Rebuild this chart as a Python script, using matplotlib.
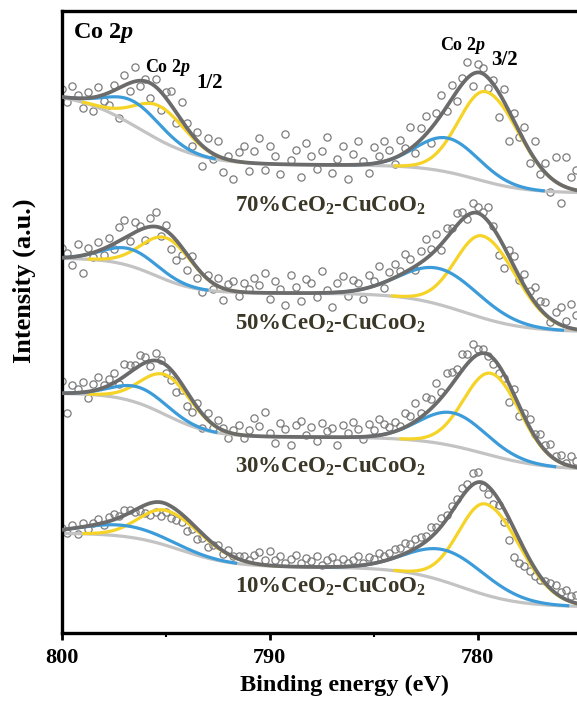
import numpy as np
import matplotlib
matplotlib.use('Agg')
import matplotlib.pyplot as plt

plt.rcParams['font.family'] = ['Liberation Serif', 'DejaVu Serif']
plt.rcParams['font.weight'] = 'bold'
plt.rcParams['axes.labelweight'] = 'bold'
plt.rcParams['mathtext.fontset'] = 'custom'
plt.rcParams['mathtext.rm'] = 'Liberation Serif:bold'
plt.rcParams['mathtext.it'] = 'Liberation Serif:italic:bold'
plt.rcParams['mathtext.bf'] = 'Liberation Serif:bold'

# spectra from top to bottom
samples = ['70%', '50%', '30%', '10%']
offsets = [440, 301, 163, 26]

# Shirley-type background: one step under each spin-orbit peak
bg32_height = [28, 39, 33, 40]
bg32_pos = [780.1, 780.6, 779.7, 780.8]
bg32_width = [2.5, 2.9, 3.0, 2.8]
bg12_height = [73, 35, 44, 34]
bg12_pos = [796.3, 795.5, 795.0, 794.3]
bg12_width = [3.0, 2.0, 2.2, 2.5]

# fitted components (yellow / blue), Co 2p3/2 region
yel32_pos = [779.6, 779.75, 779.35, 779.6]
yel32_amp = [90, 82, 82, 91]
yel32_sig_hi = [1.3, 1.3, 1.3, 1.3]
yel32_sig_lo = [1.6, 1.6, 1.4, 1.65]
blu32_pos = [781.45, 781.8, 781.2, 781.45]
blu32_amp = [34, 36, 33, 31.5]
blu32_sig = [1.5, 1.9, 1.6, 1.9]

# Co 2p1/2 region
yel12_pos = [795.3, 794.95, 794.95, 794.95]
yel12_amp = [34, 42, 40, 35]
yel12_sig_hi = [1.2, 1.2, 1.2, 1.3]
yel12_sig_lo = [1.3, 1.2, 1.2, 1.7]
blu12_pos = [796.5, 796.7, 796.25, 797.0]
blu12_amp = [24, 17, 16, 11]
blu12_sig = [1.3, 1.3, 1.3, 2.0]

# measured points as residuals from the envelope, 0.25 eV steps from 800 eV
resid_70 = [8, -4, 12, 3, -10, 6, -14, 9, -6,
            -12, 5, -30, 10, -8, 14, -5, 2, -15, 8, -18, 6,
            14, -10, 18, 5, -12, 9, -20, 12, -6, 15, -14, 4, -18, 10, 16, -8,
            12, 25, -6, 18, 8, -10, 30, 4, 15, -12, 22, 9, -4, 14, 28, -8,
            6, 19, -14, 11, 24, 3, -9, 16, 7, 20,
            10, -6, 15, 4, 22, -8, 12, 18, -15, 9, 20, -4, 14, -10, 6, 16, -12, 8,
            6, -10, 4, -25, 12, -30, 8, -5, 15, -12, 18, -8, 10, -14, 25, -18,
            30, 12, 20]
resid_50 = [10, 4, -8, 12, -18, 6, -4, 9, -6,
            8, -5, 14, 18, -6, 10, 4, -12, 9, 15, -8, 6,
            -14, -20, -8, -16, 5, -10, -18, 4, -6, 8, -12, 6, 10, -4, 9, 3,
            15, 8, 20, -6, 12, 4, -12, 18, 6, -8, 14, 10, -4, 22, 3, -14,
            9, 16, -5, 11, 7, -10, 13, 5, 18, -6,
            8, 14, 4, 18, 10, -4, 12, 20, 6, 16, -6, 10, 4, 12, 8, -4, 10, 6,
            4, 14, 2, -18, -22, 6, 10, -4, 12, 4, 15, 8, 12, -3, 10, 18,
            6, 24, 14]
resid_30 = [12, -20, 8, 4, 10, -6, 7, 12, 3,
            6, 10, -4, 12, 8, 4, 10, 6, -5, 8, 2, -8,
            -10, -16, -6, -14, -12, 4, -14, 6, -4, 8, 2, -6, 4, 10, -3, 6,
            18, 10, 24, 4, -6, 14, 8, -8, 12, 16, 2, 10, -4, 14, 6, 9,
            -8, 12, 4, 15, 8, -2, 12, 6, 16, 10,
            6, 10, 4, 14, 8, 18, 4, 16, 10, 20, 6, 18, 12, 8, 16, 10, 14, 6,
            4, -2, -6, -8, -4, -18, 6, -10, 4, 8, 2, 10, 6, 12, 4, 8,
            2, 10, 6]
resid_10 = [2, -4, 3, -6, 4, -3, 2, 5, -2,
            4, 6, 2, 5, 3, -2, -4, -8, -12, -10, -14, -8,
            -12, -10, -8, -12, -6, -10, -4, -8, -2, 2, -3, 4, 1, 3, 5, 2,
            8, 12, 5, 14, 6, 10, 3, 8, 12, 4, 9, 6, 11, 2, 7, 10,
            4, 8, 3, 6, 10, 2, 7, 4, 9, 5,
            6, 9, 8, 10, 7, 9, 8, 6, 10, 5, 8, 4, 6, 5, 8, 6, 12, 10,
            -4, -8, -12, -6, -14, -22, -28, -24, -16, -12, -8, -4, 2, 6, 8, 5,
            10, 6, 8]
residuals = [resid_70, resid_50, resid_30, resid_10]

e_fit = np.linspace(800, 772, 1121)
e_pts = 800 - 0.25 * np.arange(len(resid_70))


def step(e, h, c, w):
    return h * 0.5 * (1 + np.tanh((e - c) / w))


def peak(e, a, c, s_hi, s_lo):
    s = np.where(e > c, s_hi, s_lo)
    return a * np.exp(-(e - c) ** 2 / (2 * s ** 2))


def model(e, k):
    bg = (offsets[k] + step(e, bg32_height[k], bg32_pos[k], bg32_width[k])
          + step(e, bg12_height[k], bg12_pos[k], bg12_width[k]))
    comps = [
        (peak(e, yel32_amp[k], yel32_pos[k], yel32_sig_hi[k], yel32_sig_lo[k]), '#f5d327'),
        (peak(e, blu32_amp[k], blu32_pos[k], blu32_sig[k], blu32_sig[k]), '#3c9cd9'),
        (peak(e, yel12_amp[k], yel12_pos[k], yel12_sig_hi[k], yel12_sig_lo[k]), '#f5d327'),
        (peak(e, blu12_amp[k], blu12_pos[k], blu12_sig[k], blu12_sig[k]), '#3c9cd9'),
    ]
    return bg, comps


fig = plt.figure(figsize=(5.77, 7.04), dpi=100)
ax = fig.add_axes([62 / 577, 71 / 704, 582 / 577, 622 / 704])

for k in range(len(samples)):
    bg, comps = model(e_fit, k)
    env = bg + sum(c for c, _ in comps)
    bg_p, comps_p = model(e_pts, k)
    env_p = bg_p + sum(c for c, _ in comps_p)

    ax.plot(e_pts, env_p + np.array(residuals[k]), 'o', mfc='none', mec='#7c7c7c',
            ms=5.2, mew=0.9, zorder=1)
    ax.plot(e_fit, bg, color='#c3c3c3', lw=2.3, zorder=2)
    for c, col in comps:
        ax.plot(e_fit, np.where(c > 0.3, bg + c, np.nan), color=col, lw=2.3, zorder=3)
    ax.plot(e_fit, env, color='#6b6b6b', lw=2.7, zorder=4)

# sample names
label_y = [421, 303, 160, 40]
for name, yy in zip(samples, label_y):
    ax.text(791.68, yy, name + r'CeO$_\mathbf{2}$-CuCoO$_\mathbf{2}$', fontsize=16.5,
            color='#3b3727', ha='left', va='baseline')

ax.text(799.47, 595, r'Co 2$p$', fontsize=17.5, ha='left', va='baseline')
ax.text(796.0, 561, r'Co 2$p$', fontsize=13, ha='left', va='baseline')
ax.text(793.55, 545, '1/2', fontsize=15, ha='left', va='baseline')
ax.text(781.83, 583, r'Co 2$p$', fontsize=13, ha='left', va='baseline')
ax.text(779.35, 568, '3/2', fontsize=15, ha='left', va='baseline')

ax.set_xlim(800, 772)
ax.set_ylim(0, 622)
ax.set_xticks([800, 790, 780])
ax.set_xticks([795, 785, 775], minor=True)
ax.set_yticks([])
ax.tick_params(axis='x', which='major', direction='out', length=5, width=2,
               labelsize=16, pad=6)
ax.tick_params(axis='x', which='minor', direction='out', length=3, width=1.5)
for s in ax.spines.values():
    s.set_linewidth(2.4)

ax.set_xlabel('Binding energy (eV)', fontsize=17.5)
ax.xaxis.set_label_coords((345 - 62) / 582, -0.068)
ax.set_ylabel('Intensity (a.u.)', fontsize=19)
ax.yaxis.set_label_coords(-0.044, 0.566)

fig.savefig('out.png', dpi=100)
